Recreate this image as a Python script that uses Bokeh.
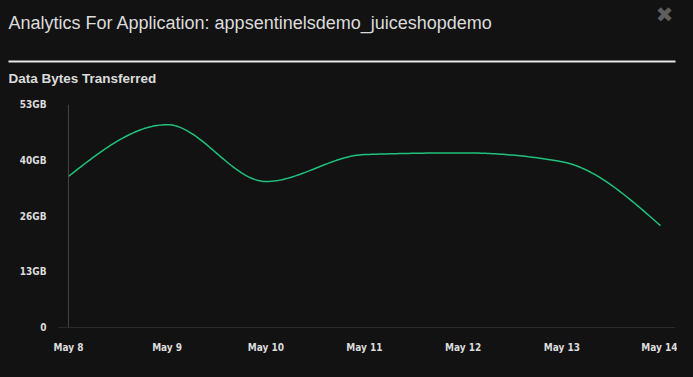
import numpy as np
from bokeh.plotting import figure
from bokeh.layouts import column
from bokeh.models import Span, FixedTicker, Range1d
from bokeh.core.properties import value
from bokeh.embed import file_html
from bokeh.resources import INLINE

# ---- data ----
days = ["May 8", "May 9", "May 10", "May 11", "May 12", "May 13", "May 14"]
bytes_gb = [35.9, 48.2, 34.7, 41.1, 41.5, 39.4, 24.2]
y_ticks = [0, 13.25, 26.5, 39.75, 53]
y_tick_labels = ["0", "13GB", "26GB", "40GB", "53GB"]
title_text = "Analytics For Application: appsentinelsdemo_juiceshopdemo"
subtitle_text = "Data Bytes Transferred"

BG = "#121212"
TXT = "#dcdcdc"
W = 677
HH = 96          # header height
CH = 361 - HH    # chart height
TICK_FONT = "'DejaVu Sans Condensed', 'Liberation Sans'"


def monotone_x(xs, ys, n=40):
    xs = np.asarray(xs, float); ys = np.asarray(ys, float)
    h = np.diff(xs); s = np.diff(ys) / h
    m = np.zeros(len(xs))
    for i in range(1, len(xs) - 1):
        s0, s1, h0, h1 = s[i - 1], s[i], h[i - 1], h[i]
        p_ = (s0 * h1 + s1 * h0) / (h0 + h1)
        m[i] = (np.sign(s0) + np.sign(s1)) * min(abs(s0), abs(s1), 0.5 * abs(p_))
    m[0] = (3 * s[0] - m[1]) / 2
    m[-1] = (3 * s[-1] - m[-2]) / 2
    px, py = [], []
    for i in range(len(xs) - 1):
        t = np.linspace(0, 1, n, endpoint=(i == len(xs) - 2))
        x0, x1, y0, y1 = xs[i], xs[i + 1], ys[i], ys[i + 1]
        dx = x1 - x0
        h00 = 2 * t**3 - 3 * t**2 + 1; h10 = t**3 - 2 * t**2 + t
        h01 = -2 * t**3 + 3 * t**2; h11 = t**3 - t**2
        px.extend(x0 + t * dx)
        py.extend(h00 * y0 + h10 * dx * m[i] + h01 * y1 + h11 * dx * m[i + 1])
    return px, py


# ---- header (pixel-like ranges, y downward) ----
hdr = figure(width=W, height=HH, output_backend="svg", toolbar_location=None,
             x_range=Range1d(0, W), y_range=Range1d(HH, 0),
             background_fill_color=BG, border_fill_color=BG, outline_line_color=None,
             min_border=0, x_axis_location=None, y_axis_location=None,
             frame_align=False)
hdr.grid.visible = False
hdr.text(x=[8], y=[22], text=[title_text], text_font=value("Liberation Sans"),
         text_font_size="18px", text_color=TXT, text_baseline="middle")
hdr.segment(x0=[8], y0=[61], x1=[675], y1=[61], line_color="#e6e6e6", line_width=2)
hdr.text(x=[8], y=[78], text=[subtitle_text], text_font=value("Liberation Sans"),
         text_font_size="13.5px", text_font_style="bold", text_color=TXT,
         text_baseline="middle")
hdr.text(x=[664], y=[14], text=["\u2716"], text_font=value("DejaVu Sans"),
         text_font_size="21px", text_color="#5e5e5e", text_baseline="middle",
         text_align="center")

# ---- chart ----
xi = list(range(len(days)))
cx, cy = monotone_x(xi, bytes_gb)

p = figure(width=W, height=CH, output_backend="svg", toolbar_location=None,
           x_range=Range1d(-0.101, 6.152), y_range=Range1d(0, 53),
           background_fill_color=BG, border_fill_color=BG,
           outline_line_color=None,
           min_border_left=58, min_border_right=2,
           min_border_top=8, min_border_bottom=34, frame_align=False)
p.grid.visible = False

p.line(cx, cy, line_color="#1fc27c", line_width=1.5)

for ax in (p.xaxis[0], p.yaxis[0]):
    ax.axis_line_color = None
    ax.major_tick_line_color = None
    ax.minor_tick_line_color = None
    ax.major_label_text_color = TXT
    ax.major_label_text_font = TICK_FONT
    ax.major_label_text_font_size = "10px"
    ax.major_label_text_font_style = "bold"

p.xaxis.ticker = FixedTicker(ticks=xi)
p.xaxis.major_label_overrides = {i: d for i, d in enumerate(days)}
p.xaxis.major_label_standoff = 8
p.yaxis.ticker = FixedTicker(ticks=y_ticks)
p.yaxis.major_label_overrides = {t: l for t, l in zip(y_ticks, y_tick_labels)}
p.yaxis.major_label_standoff = 6

p.add_layout(Span(location=0, dimension="height", line_color="#444444", line_width=1))
p.add_layout(Span(location=0, dimension="width", line_color="#444444", line_width=1))

layout = column(hdr, p, spacing=0)
html = file_html(layout, INLINE)
html = html.replace("<head>", "<head><style>html,body{background:#121212;}</style>", 1)
open("out.html", "w").write(html)
